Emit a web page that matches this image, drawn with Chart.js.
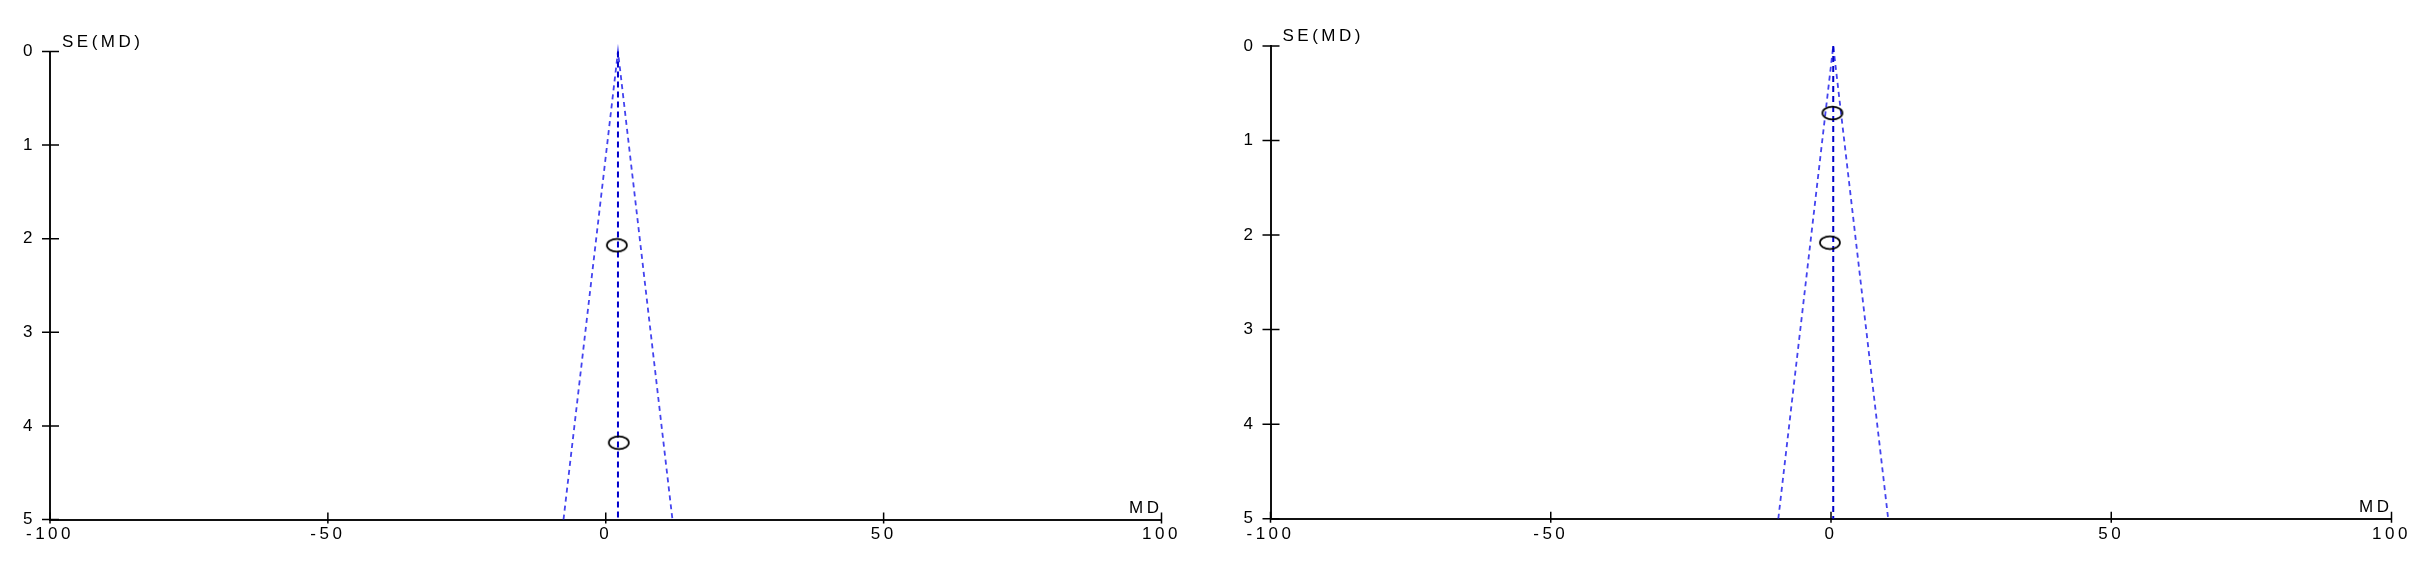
<!DOCTYPE html>
<html>
<head>
<meta charset="utf-8">
<script src="https://cdn.jsdelivr.net/npm/chart.js@4.4.0/dist/chart.umd.min.js"></script>
<style>
html, body { margin: 0; padding: 0; background: #fff; width: 2431px; height: 571px; overflow: hidden; }
.box { position: absolute; top: 0; height: 571px; }
</style>
</head>
<body>
<div class="box" style="left:0;width:1215px"><canvas id="left"></canvas></div>
<div class="box" style="left:1220px;width:1211px"><canvas id="right"></canvas></div>
<script>
// axis ticks
const xTicks = [-100, -50, 0, 50, 100];
const yTicks = [0, 1, 2, 3, 4, 5];

// left funnel plot
const leftMD = [2.0, 2.35];
const leftSE = [2.07, 4.18];
const leftPooled = 2.2;
const leftFunnelMD = [-7.6, 2.2, 12.0];

// right funnel plot
const rightMD = [0.25, -0.2];
const rightSE = [0.71, 2.08];
const rightPooled = 0.4;
const rightFunnelMD = [-9.4, 0.4, 10.2];

const funnelSE = [5, 0, 5];

const FAMILY = '"Liberation Sans", Arial, sans-serif';
const FONT = '17px ' + FAMILY;
const SPACING = '3.5px';

// open ellipse marker
const ellipse = document.createElement('canvas');
ellipse.width = 24;
ellipse.height = 16;
(function () {
    const c = ellipse.getContext('2d');
    c.strokeStyle = '#000';
    c.lineWidth = 1.7;
    c.beginPath();
    c.ellipse(12, 8, 10, 6.3, 0, 0, Math.PI * 2);
    c.stroke();
})();

const axisExtras = {
    id: 'axisExtras',
    beforeLayout(chart) { chart.ctx.letterSpacing = SPACING; },
    beforeDraw(chart) { chart.ctx.letterSpacing = SPACING; },
    afterDraw(chart) {
        const {ctx, chartArea: a, scales: {x, y}} = chart;
        ctx.save();
        ctx.strokeStyle = '#000';
        ctx.lineWidth = 1.5;
        ctx.beginPath();
        yTicks.forEach(v => {
            const py = y.getPixelForValue(v);
            ctx.moveTo(a.left - 8, py);
            ctx.lineTo(a.left + 9, py);
        });
        xTicks.forEach(v => {
            const px = x.getPixelForValue(v);
            ctx.moveTo(px, a.bottom - 7);
            ctx.lineTo(px, a.bottom + 4);
        });
        ctx.stroke();
        ctx.fillStyle = '#000';
        ctx.font = FONT;
        ctx.letterSpacing = SPACING;
        ctx.textBaseline = 'alphabetic';
        ctx.textAlign = 'left';
        ctx.fillText('SE(MD)', a.left + 12, a.top - 5);
        ctx.textAlign = 'right';
        ctx.fillText('MD', a.right + 1, a.bottom - 7);
        ctx.restore();
    }
};

function makeFunnel(id, md, se, pooled, funnelMD, pad) {
    const points = md.map((v, i) => ({x: v, y: se[i]}));
    const funnel = funnelMD.map((v, i) => ({x: v, y: funnelSE[i]}));
    const center = [{x: pooled, y: 0}, {x: pooled, y: 5}];
    new Chart(document.getElementById(id), {
        type: 'scatter',
        data: {
            datasets: [
                {data: points, pointStyle: ellipse, pointRadius: 10, clip: false},
                {data: center, showLine: true, pointRadius: 0, borderColor: '#0000cc',
                    borderWidth: 2, borderDash: [6, 4], clip: false},
                {data: funnel, showLine: true, pointRadius: 0, borderColor: 'rgba(20,20,235,0.8)',
                    borderWidth: 1.8, borderDash: [5, 4], clip: false}
            ]
        },
        options: {
            responsive: true,
            maintainAspectRatio: false,
            animation: false,
            layout: {padding: {top: pad.top, right: pad.right, left: 0, bottom: 0}},
            plugins: {legend: {display: false}, tooltip: {enabled: false}},
            scales: {
                x: {
                    type: 'linear', min: -100, max: 100,
                    afterBuildTicks: s => { s.ticks = xTicks.map(v => ({value: v})); },
                    afterFit: s => { s.height = pad.xh; },
                    grid: {display: false, drawTicks: false},
                    border: {display: true, color: '#111', width: 2},
                    ticks: {color: '#000', font: {family: FAMILY, size: 17}, padding: 5, maxRotation: 0}
                },
                y: {
                    type: 'linear', min: 0, max: 5, reverse: true,
                    afterBuildTicks: s => { s.ticks = yTicks.map(v => ({value: v})); },
                    afterFit: s => { s.width = pad.yw; },
                    grid: {display: false, drawTicks: false},
                    border: {display: true, color: '#111', width: 2},
                    ticks: {color: '#000', font: {family: FAMILY, size: 17}, padding: 14}
                }
            }
        },
        plugins: [axisExtras]
    });
}

makeFunnel('left', leftMD, leftSE, leftPooled, leftFunnelMD, {top: 51.5, right: 53.5, xh: 51.5, yw: 50});
makeFunnel('right', rightMD, rightSE, rightPooled, rightFunnelMD, {top: 46, right: 39.5, xh: 52.3, yw: 50.5});
</script>
</body>
</html>
